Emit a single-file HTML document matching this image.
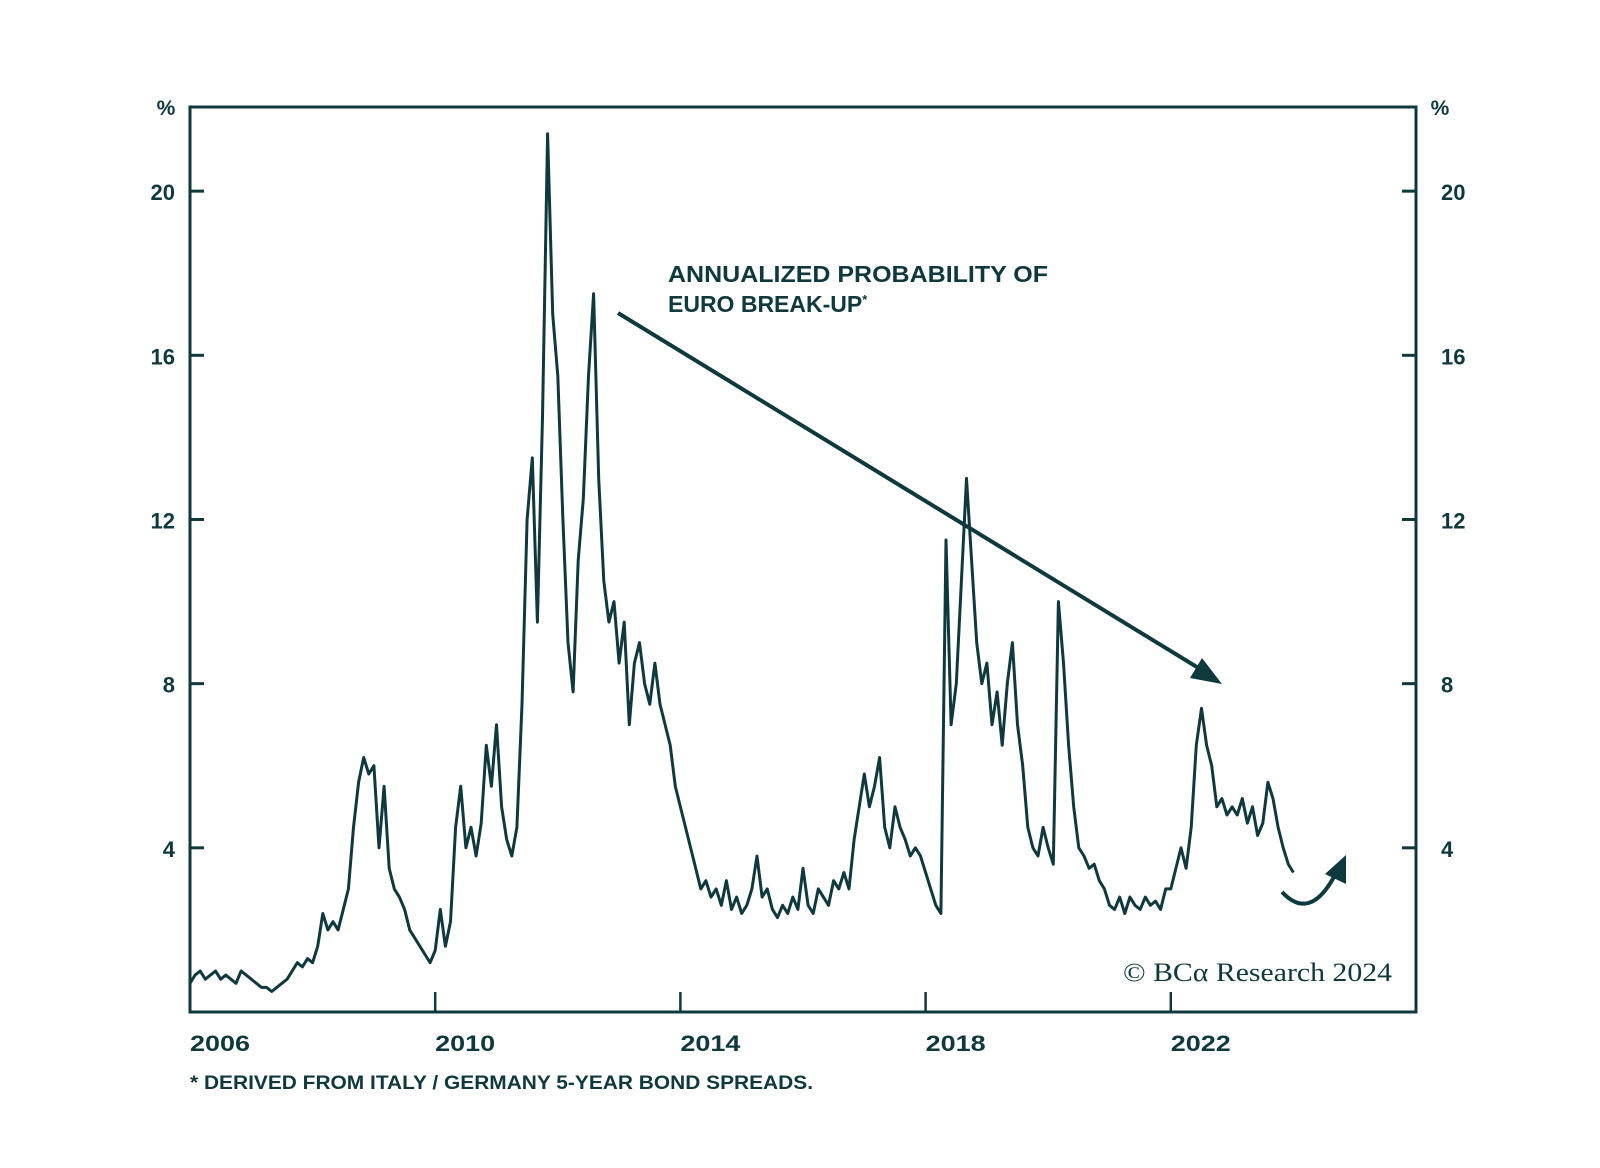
<!DOCTYPE html>
<html><head><meta charset="utf-8"><style>
html,body{margin:0;padding:0;background:#fff;}
svg{display:block;}
</style></head><body>
<svg id="chart" width="1600" height="1168" viewBox="0 0 1600 1168" xmlns="http://www.w3.org/2000/svg" font-family="Liberation Sans, sans-serif">
<rect x="0" y="0" width="1600" height="1168" fill="#fff"/>
<g id="axes"></g>
<path id="series" fill="none" stroke="#10393d" stroke-width="3" stroke-linejoin="round"/>
<text x="668" y="282" font-size="23" font-weight="bold" fill="#10393d" textLength="380" lengthAdjust="spacingAndGlyphs">ANNUALIZED PROBABILITY OF</text>
<text x="668" y="312" font-size="23" font-weight="bold" fill="#10393d">EURO BREAK-UP<tspan font-size="13" dy="-8">*</tspan></text>
<g>
<line x1="618" y1="313" x2="1205" y2="672" stroke="#10393d" stroke-width="4"/>
<polygon points="1222,684 1190,678 1202,658" fill="#10393d"/>
</g>
<g>
<path d="M1282,892 Q1310,922 1335,875" fill="none" stroke="#10393d" stroke-width="4"/>
<polygon points="1346,855 1346,884 1325,874" fill="#10393d"/>
</g>
<text x="1123" y="981" font-family="Liberation Serif, serif" font-size="26" fill="#10393d" textLength="269" lengthAdjust="spacingAndGlyphs">© BCα Research 2024</text>
<text x="190" y="1089" font-size="19" font-weight="bold" fill="#10393d" textLength="623" lengthAdjust="spacingAndGlyphs">* DERIVED FROM ITALY / GERMANY 5-YEAR BOND SPREADS.</text>
</svg>
<script>
const yTicks=[4,8,12,16,20];
const xTicks=[2006,2010,2014,2018,2022];
const startYear=2006;
const values=[
0.7,0.9,1.0,0.8,0.9,1.0,0.8,0.9,0.8,0.7,1.0,0.9,
0.8,0.7,0.6,0.6,0.5,0.6,0.7,0.8,1.0,1.2,1.1,1.3,
1.2,1.6,2.4,2.0,2.2,2.0,2.5,3.0,4.5,5.6,6.2,5.8,
6.0,4.0,5.5,3.5,3.0,2.8,2.5,2.0,1.8,1.6,1.4,1.2,
1.5,2.5,1.6,2.2,4.5,5.5,4.0,4.5,3.8,4.6,6.5,5.5,
7.0,5.0,4.2,3.8,4.5,7.5,12.0,13.5,9.5,14.5,21.4,17.0,
15.5,12.0,9.0,7.8,11.0,12.5,15.5,17.5,13.0,10.5,9.5,10.0,
8.5,9.5,7.0,8.5,9.0,8.0,7.5,8.5,7.5,7.0,6.5,5.5,
5.0,4.5,4.0,3.5,3.0,3.2,2.8,3.0,2.6,3.2,2.5,2.8,
2.4,2.6,3.0,3.8,2.8,3.0,2.5,2.3,2.6,2.4,2.8,2.5,
3.5,2.6,2.4,3.0,2.8,2.6,3.2,3.0,3.4,3.0,4.2,5.0,
5.8,5.0,5.5,6.2,4.5,4.0,5.0,4.5,4.2,3.8,4.0,3.8,
3.4,3.0,2.6,2.4,11.5,7.0,8.0,10.5,13.0,11.0,9.0,8.0,
8.5,7.0,7.8,6.5,8.0,9.0,7.0,6.0,4.5,4.0,3.8,4.5,
4.0,3.6,10.0,8.5,6.5,5.0,4.0,3.8,3.5,3.6,3.2,3.0,
2.6,2.5,2.8,2.4,2.8,2.6,2.5,2.8,2.6,2.7,2.5,3.0,
3.0,3.5,4.0,3.5,4.5,6.5,7.4,6.5,6.0,5.0,5.2,4.8,
5.0,4.8,5.2,4.6,5.0,4.3,4.6,5.6,5.2,4.5,4.0,3.6,
3.4];
const L=190,R=1416,T=107,B=1012,C="#10393d";
const x=t=>L+(t-2006)*(R-L)/20;
const y=v=>B-v*(B-T)/22.05;
const NS="http://www.w3.org/2000/svg";
const ax=document.getElementById('axes');
function mk(tag,attrs,parent){const e=document.createElementNS(NS,tag);for(const k in attrs)e.setAttribute(k,attrs[k]);(parent||ax).appendChild(e);return e;}
const frame=mk('rect',{x:L,y:T,width:R-L,height:B-T,fill:'none',stroke:C,'stroke-width':3});


[['left',166],['right',1440]].forEach(([s,tx])=>{
 const p=mk('text',{x:tx,y:T+8,'font-size':21,'font-weight':'bold',fill:C,'text-anchor':'middle'});
 p.textContent='%';
 
 
});
yTicks.forEach(v=>{
 const yy=y(v);
 mk('line',{x1:L,x2:L+14,y1:yy,y2:yy,stroke:C,'stroke-width':3});
 mk('line',{x1:R-14,x2:R,y1:yy,y2:yy,stroke:C,'stroke-width':3});
 const a=mk('text',{x:175,y:yy+9,'font-size':22,'font-weight':'bold',fill:C,'text-anchor':'end'});
 a.textContent=v;
 
 
 const b=mk('text',{x:1441,y:yy+9,'font-size':22,'font-weight':'bold',fill:C,'text-anchor':'start'});
 b.textContent=v;
 
 
});
xTicks.forEach(t=>{
 const xx=x(t);
 if(t>2006) mk('line',{x1:xx,x2:xx,y1:B-20,y2:B,stroke:C,'stroke-width':2.5});
 const lb=mk('text',{x:xx,y:1051,'font-size':22,'font-weight':'bold',fill:C,textLength:60,lengthAdjust:'spacingAndGlyphs'});
 lb.textContent=t;
 
 
});
let d='';
values.forEach((v,i)=>{d+=(i?'L':'M')+x(startYear+i/12).toFixed(1)+','+y(v).toFixed(1);});
document.getElementById('series').setAttribute('d',d);
</script>
</body></html>
